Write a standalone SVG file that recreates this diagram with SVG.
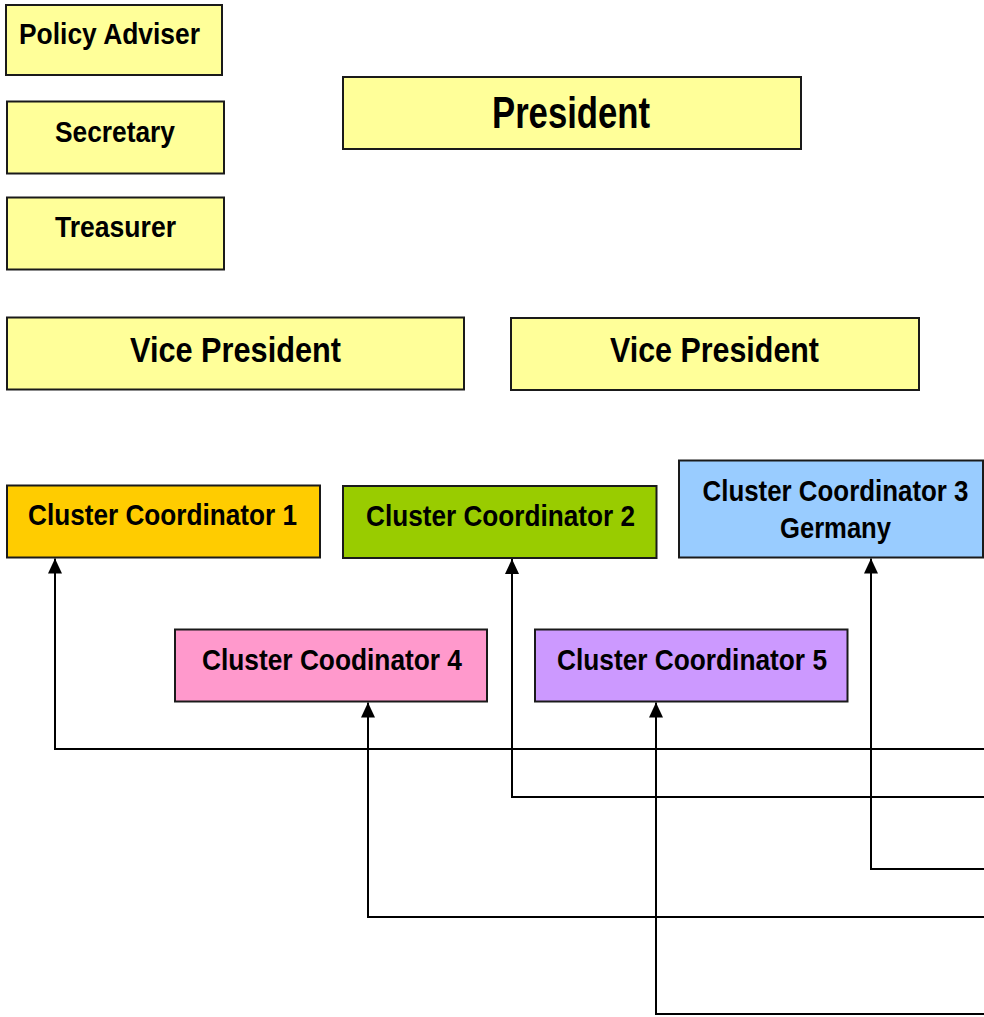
<svg xmlns="http://www.w3.org/2000/svg" width="984" height="1017" viewBox="0 0 984 1017">
<style>
.box{stroke:#1a1a1a;stroke-width:2}
.y{fill:#FFFF99}
.t{font-family:"Liberation Sans",Arial,sans-serif;font-weight:bold;fill:#000}
.s{font-size:29.5px}
.m{font-size:35px}
.l{font-size:44px}
.conn{fill:none;stroke:#000;stroke-width:2}
</style>
<defs>
<marker id="arr" viewBox="0 0 15 14" refX="15" refY="7" markerWidth="15" markerHeight="14" markerUnits="userSpaceOnUse" orient="auto">
<path d="M0,0 L15,7 L0,14 Z" fill="#000"/>
</marker>
</defs>
<rect width="984" height="1017" fill="#fff"/>
<g id="policy-adviser">
<rect class="box y" x="6" y="5" width="216" height="70"/>
<text class="t s" x="19" y="44" textLength="181" lengthAdjust="spacingAndGlyphs">Policy Adviser</text>
</g>
<g id="secretary">
<rect class="box y" x="7" y="101.5" width="217" height="72"/>
<text class="t s" x="55" y="141.5" textLength="120" lengthAdjust="spacingAndGlyphs">Secretary</text>
</g>
<g id="treasurer">
<rect class="box y" x="7" y="197.5" width="217" height="72"/>
<text class="t s" x="55" y="237" textLength="121" lengthAdjust="spacingAndGlyphs">Treasurer</text>
</g>
<g id="president">
<rect class="box y" x="343" y="77" width="458" height="72"/>
<text class="t l" x="492" y="128" textLength="158" lengthAdjust="spacingAndGlyphs">President</text>
</g>
<g id="vice-president-1">
<rect class="box y" x="7" y="317.5" width="457" height="72"/>
<text class="t m" x="130" y="362" textLength="211" lengthAdjust="spacingAndGlyphs">Vice President</text>
</g>
<g id="vice-president-2">
<rect class="box y" x="511" y="318" width="408" height="72"/>
<text class="t m" x="610" y="362" textLength="209" lengthAdjust="spacingAndGlyphs">Vice President</text>
</g>
<g id="cluster-coordinator-1">
<rect class="box" fill="#FFCC00" x="7" y="485.5" width="313" height="72"/>
<text class="t s" x="28" y="525" textLength="269" lengthAdjust="spacingAndGlyphs">Cluster Coordinator 1</text>
</g>
<g id="cluster-coordinator-2">
<rect class="box" fill="#99CC00" x="343" y="486" width="313.5" height="72"/>
<text class="t s" x="366" y="525.5" textLength="269" lengthAdjust="spacingAndGlyphs">Cluster Coordinator 2</text>
</g>
<g id="cluster-coordinator-3">
<rect class="box" fill="#99CCFF" x="679" y="460.5" width="304" height="97"/>
<text class="t s" x="702.5" y="500.5" textLength="266" lengthAdjust="spacingAndGlyphs">Cluster Coordinator 3</text>
<text class="t s" x="780" y="538" textLength="111" lengthAdjust="spacingAndGlyphs">Germany</text>
</g>
<g id="cluster-coordinator-4">
<rect class="box" fill="#FF99CC" x="175" y="629.5" width="312" height="72"/>
<text class="t s" x="202" y="670" textLength="260" lengthAdjust="spacingAndGlyphs">Cluster Coodinator 4</text>
</g>
<g id="cluster-coordinator-5">
<rect class="box" fill="#CC99FF" x="535" y="629.5" width="312.5" height="72"/>
<text class="t s" x="557" y="670" textLength="270" lengthAdjust="spacingAndGlyphs">Cluster Coordinator 5</text>
</g>
<g id="connectors">
<path class="conn" d="M984,749 H55 V558.5" marker-end="url(#arr)"/>
<path class="conn" d="M984,797 H512 V559" marker-end="url(#arr)"/>
<path class="conn" d="M984,869 H871 V558.5" marker-end="url(#arr)"/>
<path class="conn" d="M984,917 H368 V702.5" marker-end="url(#arr)"/>
<path class="conn" d="M984,1014 H656 V702.5" marker-end="url(#arr)"/>
</g>
</svg>
